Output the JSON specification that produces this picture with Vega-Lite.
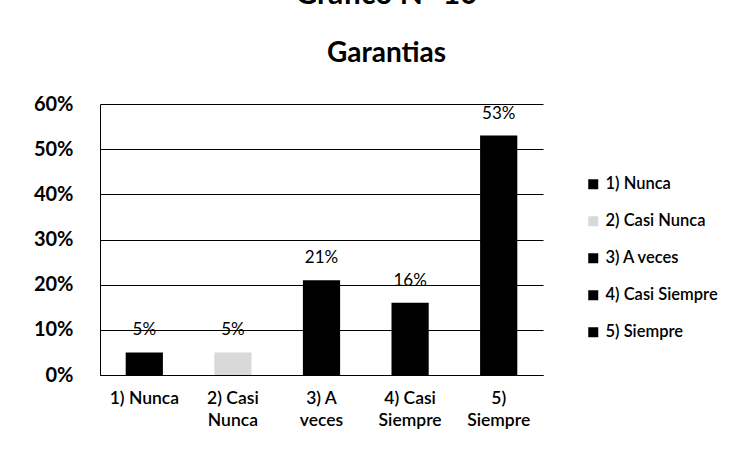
{
  "$schema": "https://vega.github.io/schema/vega-lite/v6.json",
  "width": 443,
  "height": 271,
  "autosize": {"type": "none"},
  "padding": {"left": 100, "top": 104, "right": 210, "bottom": 76},
  "background": "white",
  "title": {
    "text": "Gráfico N° 10",
    "subtitle": "Garantias",
    "anchor": "middle",
    "frame": "group",
    "dx": 65,
    "font": "Lato",
    "fontSize": 30,
    "fontWeight": "bold",
    "color": "black",
    "subtitleFont": "Lato",
    "subtitleFontSize": 28,
    "subtitleFontWeight": "bold",
    "subtitleColor": "black",
    "subtitlePadding": 30,
    "offset": 26
  },
  "data": {
    "values": [
      {"cat": "1) Nunca", "pct": 0.05},
      {"cat": "2) Casi Nunca", "pct": 0.05},
      {"cat": "3) A veces", "pct": 0.21},
      {"cat": "4) Casi Siempre", "pct": 0.16},
      {"cat": "5) Siempre", "pct": 0.53}
    ]
  },
  "encoding": {
    "x": {
      "field": "cat",
      "type": "nominal",
      "sort": null,
      "scale": {"paddingInner": 0.58, "paddingOuter": 0.29},
      "axis": {
        "title": null,
        "labelAngle": 0,
        "ticks": false,
        "domain": true,
        "domainColor": "black",
        "labelPadding": 14,
        "labelFont": "Lato",
        "labelFontSize": 17.5,
        "labelFontWeight": 600,
        "labelColor": "black",
        "labelLineHeight": 22,
        "labelExpr": "datum.value == '1) Nunca' ? datum.value : [slice(datum.value, 0, lastindexof(datum.value, ' ')), slice(datum.value, lastindexof(datum.value, ' ') + 1)]"
      }
    },
    "y": {
      "field": "pct",
      "type": "quantitative",
      "scale": {"domain": [0, 0.6]},
      "axis": {
        "title": null,
        "format": ".0%",
        "values": [0, 0.1, 0.2, 0.3, 0.4, 0.5, 0.6],
        "grid": true,
        "gridColor": "black",
        "gridWidth": 1,
        "domain": true,
        "domainColor": "black",
        "ticks": false,
        "labelPadding": 27,
        "labelFont": "Lato",
        "labelFontSize": 20,
        "labelFontWeight": "bold",
        "labelColor": "black"
      }
    }
  },
  "layer": [
    {
      "mark": {"type": "bar"},
      "encoding": {
        "color": {
          "field": "cat",
          "type": "nominal",
          "sort": null,
          "scale": {"range": ["#000000", "#d9d9d9", "#000000", "#000000", "#000000"]},
          "legend": {
            "title": null,
            "orient": "none",
            "legendX": 485,
            "legendY": 72,
            "symbolType": "square",
            "symbolSize": 100,
            "labelFont": "Lato",
            "labelFontSize": 16.5,
            "labelFontWeight": 600,
            "labelColor": "black",
            "labelOffset": 4,
            "rowPadding": 20
          }
        }
      }
    },
    {
      "mark": {"type": "text", "baseline": "bottom", "dy": -13, "font": "Lato", "fontSize": 17, "color": "black"},
      "encoding": {"text": {"field": "pct", "type": "quantitative", "format": ".0%"}}
    }
  ],
  "config": {"view": {"stroke": null}}
}
